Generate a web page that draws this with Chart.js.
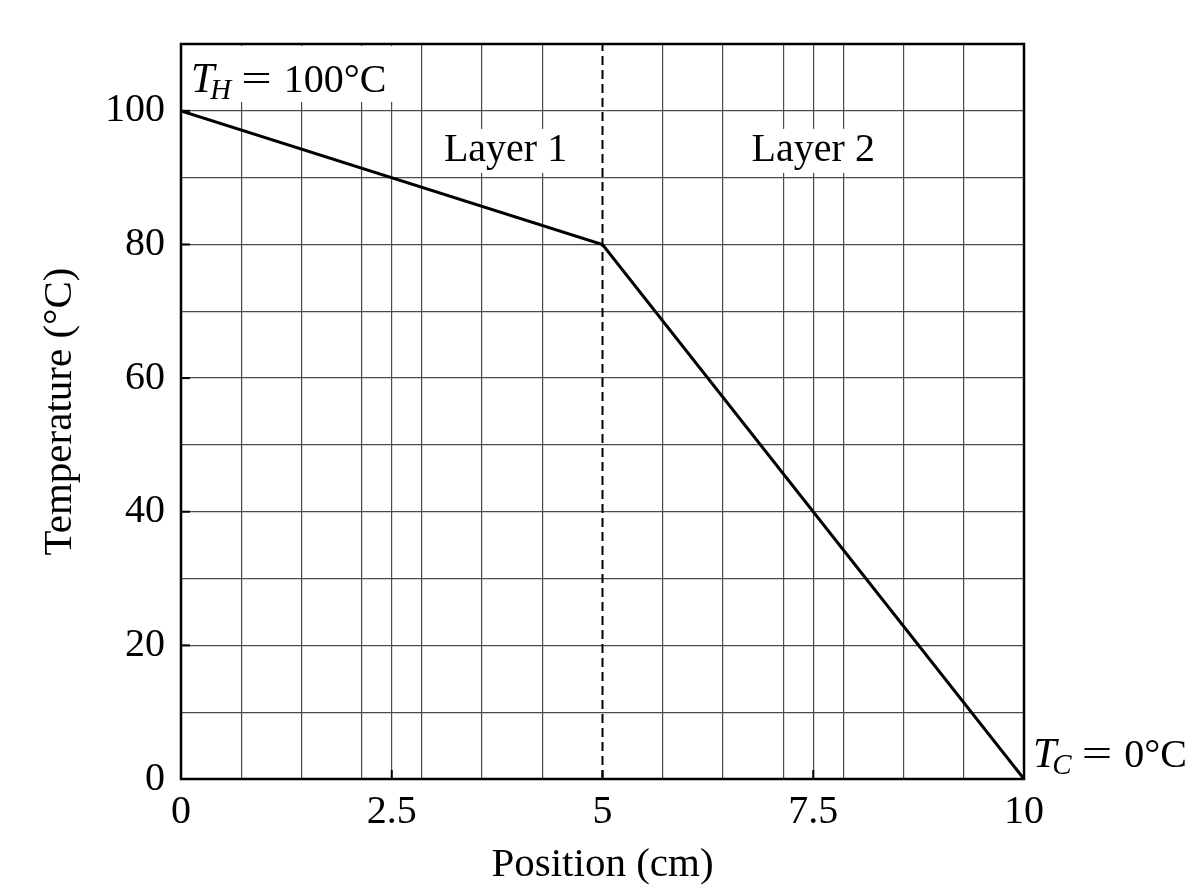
<!DOCTYPE html>
<html>
<head>
<meta charset="utf-8">
<script src="https://cdn.jsdelivr.net/npm/chart.js@4.4.1/dist/chart.umd.min.js"></script>
<style>
  html, body { margin: 0; padding: 0; background: #fff; }
  #wrap { width: 1200px; height: 896px; }
</style>
</head>
<body>
<div id="wrap"><canvas id="chart" width="1200" height="896"></canvas></div>
<script>
// data
const positions = [0, 5, 10];
const temperatures = [100, 80, 0];
const interfacePos = 5;
const xTickLabels = [0, 2.5, 5, 7.5, 10];
const yTickLabels = [0, 20, 40, 60, 80, 100];
const xGridDivisions = 14;
const layerNames = ['Layer 1', 'Layer 2'];
const layerCenters = [3.85, 7.5];
const layerLevel = 94;
const hotTemp = 100;
const coldTemp = 0;

const serif = '"Liberation Serif", "DejaVu Serif", serif';

function isMajor(v) {
    return xTickLabels.some(t => Math.abs(t - v) < 1e-6);
}

function buildXTicks() {
    let vals = xTickLabels.slice();
    for (let i = 0; i <= xGridDivisions; i++) {
        const v = i * 10 / xGridDivisions;
        if (!vals.some(t => Math.abs(t - v) < 1e-6)) vals.push(v);
    }
    vals.sort((a, b) => a - b);
    return vals.map(v => ({ value: v }));
}

// T_sub = value, drawn piece by piece
function drawMath(ctx, x, y, main, sub, rest) {
    ctx.textBaseline = 'alphabetic';
    ctx.textAlign = 'left';
    ctx.fillStyle = '#000';
    ctx.font = 'italic 42px ' + serif;
    ctx.fillText(main, x, y);
    x += ctx.measureText(main).width - 4;
    ctx.font = 'italic 29px ' + serif;
    ctx.fillText(sub, x, y + 7);
    x += ctx.measureText(sub).width + 10;
    ctx.font = '40px ' + serif;
    ctx.save();
    ctx.translate(x, y);
    ctx.scale(1.35, 1);
    ctx.fillText('=', 0, 0);
    ctx.restore();
    x += ctx.measureText('=').width * 1.35 + 12;
    ctx.fillText(rest, x, y);
    return x + ctx.measureText(rest).width;
}

const framePlugin = {
    id: 'frame',
    beforeDatasetsDraw(chart) {
        const ctx = chart.ctx;
        const xs = chart.scales.x, ys = chart.scales.y;
        const a = chart.chartArea;
        ctx.save();
        // layer labels with white boxes over the grid
        ctx.font = '40px ' + serif;
        ctx.textAlign = 'center';
        ctx.textBaseline = 'middle';
        for (let i = 0; i < layerNames.length; i++) {
            const px = xs.getPixelForValue(layerCenters[i]);
            const py = ys.getPixelForValue(layerLevel);
            const w = ctx.measureText(layerNames[i]).width;
            ctx.fillStyle = '#fff';
            ctx.fillRect(px - w / 2 - 6, py - 22, w + 12, 44);
            ctx.fillStyle = '#000';
            ctx.fillText(layerNames[i], px, py);
        }
        // hot side label
        ctx.fillStyle = '#fff';
        ctx.fillRect(a.left + 2, a.top + 2, 214, 56);
        drawMath(ctx, a.left + 10, a.top + 48, 'T', 'H', hotTemp + '°C');
        ctx.restore();
    },
    afterDraw(chart) {
        const ctx = chart.ctx;
        const xs = chart.scales.x, ys = chart.scales.y;
        const a = chart.chartArea;
        ctx.save();
        ctx.strokeStyle = '#000';
        ctx.lineWidth = 2;
        // inward tick marks
        xTickLabels.forEach(v => {
            const px = xs.getPixelForValue(v);
            ctx.beginPath();
            ctx.moveTo(px, a.bottom);
            ctx.lineTo(px, a.bottom - 9);
            ctx.stroke();
        });
        yTickLabels.forEach(v => {
            const py = ys.getPixelForValue(v);
            ctx.beginPath();
            ctx.moveTo(a.left, py);
            ctx.lineTo(a.left + 9, py);
            ctx.stroke();
        });
        ctx.lineWidth = 2.5;
        ctx.strokeRect(a.left, a.top, a.right - a.left, a.bottom - a.top);
        // cold side label
        drawMath(ctx, a.right + 9, ys.getPixelForValue(coldTemp) - 12, 'T', 'C', coldTemp + '°C');
        ctx.restore();
    }
};

const ctx = document.getElementById('chart').getContext('2d');
const chart = new Chart(ctx, {
    type: 'scatter',
    data: {
        datasets: [{
            label: 'Temperature',
            data: positions.map((p, i) => ({ x: p, y: temperatures[i] })),
            showLine: true,
            borderColor: '#000',
            borderWidth: 3,
            pointRadius: 0,
            tension: 0
        }, {
            label: 'Interface',
            data: [{ x: interfacePos, y: 0 }, { x: interfacePos, y: 110 }],
            showLine: true,
            borderColor: '#000',
            borderWidth: 2,
            borderDash: [9, 5],
            pointRadius: 0
        }]
    },
    options: {
        responsive: false,
        animation: false,
        devicePixelRatio: 1,
        layout: { padding: { top: 44, right: 176, left: 0, bottom: 0 } },
        plugins: {
            legend: { display: false },
            tooltip: { enabled: false }
        },
        scales: {
            x: {
                type: 'linear',
                min: 0,
                max: 10,
                afterBuildTicks: function(scale) { scale.ticks = buildXTicks(); },
                afterFit: function(scale) { scale.height = 117; },
                border: { display: false },
                grid: {
                    drawTicks: false,
                    lineWidth: 1.2,
                    color: function(c) {
                        const v = c.tick ? c.tick.value : 0;
                        if (Math.abs(v - interfacePos) < 1e-6) return 'rgba(0,0,0,0)';
                        return '#4a4a4a';
                    }
                },
                ticks: {
                    autoSkip: false,
                    maxRotation: 0,
                    padding: 9,
                    color: '#000',
                    font: { family: serif, size: 40 },
                    callback: function(v) { return isMajor(v) ? String(Math.round(v * 10) / 10) : ''; }
                },
                title: {
                    display: true,
                    text: 'Position (cm)',
                    color: '#000',
                    font: { family: serif, size: 41 },
                    padding: { top: 0, bottom: 6 }
                }
            },
            y: {
                min: 0,
                max: 110,
                afterFit: function(scale) { scale.width = 181; },
                border: { display: false },
                grid: { drawTicks: false, lineWidth: 1.2, color: '#4a4a4a' },
                ticks: {
                    stepSize: 10,
                    padding: 16,
                    color: '#000',
                    font: { family: serif, size: 40 },
                    callback: function(v) { return yTickLabels.includes(v) ? String(v) : ''; }
                },
                title: {
                    display: true,
                    text: 'Temperature (°C)',
                    color: '#000',
                    font: { family: serif, size: 41 },
                    padding: { top: 36, bottom: 0 }
                }
            }
        }
    },
    plugins: [framePlugin]
});
</script>
</body>
</html>
